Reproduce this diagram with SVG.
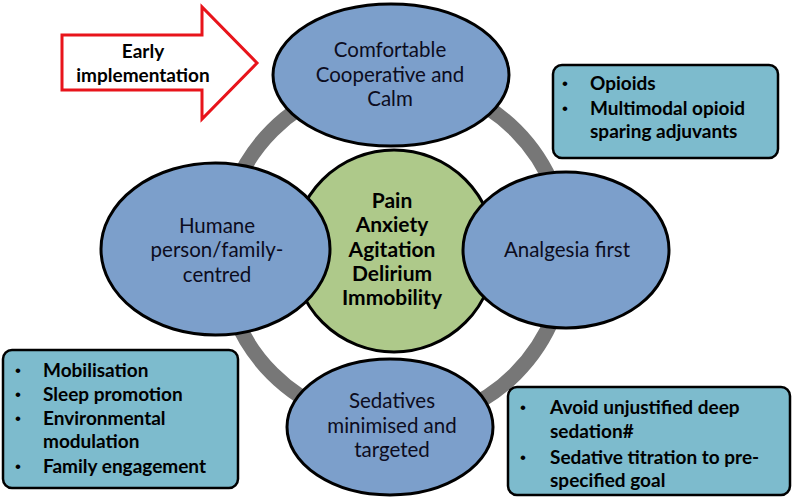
<svg xmlns="http://www.w3.org/2000/svg" width="797" height="501" viewBox="0 0 797 501">
<style>
  .ell { fill: #7C9FCB; stroke: #000; stroke-width: 3; }
  .core { fill: #AEC98A; stroke: #000; stroke-width: 3; }
  .box { fill: #7DBBCD; stroke: #000; stroke-width: 2.5; }
  .ring { fill: none; stroke: #777777; stroke-width: 15; }
  .t { font-family: Lato, "Open Sans", sans-serif; font-size: 20.5px; fill: #0c0c20; text-anchor: middle; }
  .b { font-family: Lato, "Open Sans", sans-serif; font-size: 19px; font-weight: bold; fill: #000; }
  .dot { font-family: "Liberation Sans", sans-serif; font-size: 17px; fill: #000; }
  .bc { font-family: Lato, "Open Sans", sans-serif; font-size: 19px; font-weight: bold; fill: #000; text-anchor: middle; }
  .cc { font-family: Lato, "Open Sans", sans-serif; font-size: 21px; font-weight: bold; fill: #000; text-anchor: middle; }
</style>
<rect width="797" height="501" fill="#fff"/>
<g id="connectors">
  <circle class="ring" cx="394" cy="252" r="172"/>
</g>
<g id="core">
  <circle class="core" cx="394" cy="251" r="101"/>
  <text class="cc" x="392" y="208">Pain</text>
  <text class="cc" x="392" y="232">Anxiety</text>
  <text class="cc" x="392" y="257">Agitation</text>
  <text class="cc" x="392" y="281">Delirium</text>
  <text class="cc" x="392" y="305">Immobility</text>
</g>
<g id="top">
  <ellipse class="ell" cx="391" cy="75" rx="118" ry="71"/>
  <text class="t" x="390" y="57">Comfortable</text>
  <text class="t" x="390" y="82">Cooperative and</text>
  <text class="t" x="390" y="106">Calm</text>
</g>
<g id="left">
  <ellipse class="ell" cx="215.5" cy="249" rx="114.5" ry="86"/>
  <text class="t" x="217" y="233">Humane</text>
  <text class="t" x="217" y="257">person/family-</text>
  <text class="t" x="217" y="282">centred</text>
</g>
<g id="right">
  <ellipse class="ell" cx="566" cy="250" rx="103" ry="78"/>
  <text class="t" x="567" y="257">Analgesia first</text>
</g>
<g id="bottom">
  <ellipse class="ell" cx="390" cy="427" rx="103" ry="68"/>
  <text class="t" x="392" y="408">Sedatives</text>
  <text class="t" x="392" y="433">minimised and</text>
  <text class="t" x="392" y="457">targeted</text>
</g>
<g id="box-analgesia">
  <rect class="box" x="553" y="65" width="225" height="93" rx="9"/>
  <text class="dot" x="562" y="89">•</text>
  <text class="b" x="590" y="90">Opioids</text>
  <text class="dot" x="562" y="114">•</text>
  <text class="b" x="590" y="115">Multimodal opioid</text>
  <text class="b" x="590" y="138">sparing adjuvants</text>
</g>
<g id="box-humane">
  <rect class="box" x="3" y="350" width="235" height="138" rx="9"/>
  <text class="dot" x="15" y="376">•</text>
  <text class="b" x="43" y="377">Mobilisation</text>
  <text class="dot" x="15" y="400">•</text>
  <text class="b" x="43" y="401">Sleep promotion</text>
  <text class="dot" x="15" y="424">•</text>
  <text class="b" x="43" y="425">Environmental</text>
  <text class="b" x="43" y="448">modulation</text>
  <text class="dot" x="15" y="472">•</text>
  <text class="b" x="43" y="473">Family engagement</text>
</g>
<g id="box-sedatives">
  <rect class="box" x="508" y="387" width="282" height="108" rx="9"/>
  <text class="dot" x="520" y="413">•</text>
  <text class="b" x="550" y="414">Avoid unjustified deep</text>
  <text class="b" x="550" y="438">sedation#</text>
  <text class="dot" x="520" y="463">•</text>
  <text class="b" x="550" y="464">Sedative titration to pre-</text>
  <text class="b" x="550" y="487">specified goal</text>
</g>
<g id="arrow">
  <polygon points="62,35 202,35 202,7 257,63 202,119 202,90 62,90" fill="#fff" stroke="#E8141B" stroke-width="3"/>
  <text class="bc" x="143" y="58">Early</text>
  <text class="bc" x="143" y="82">implementation</text>
</g>
</svg>
